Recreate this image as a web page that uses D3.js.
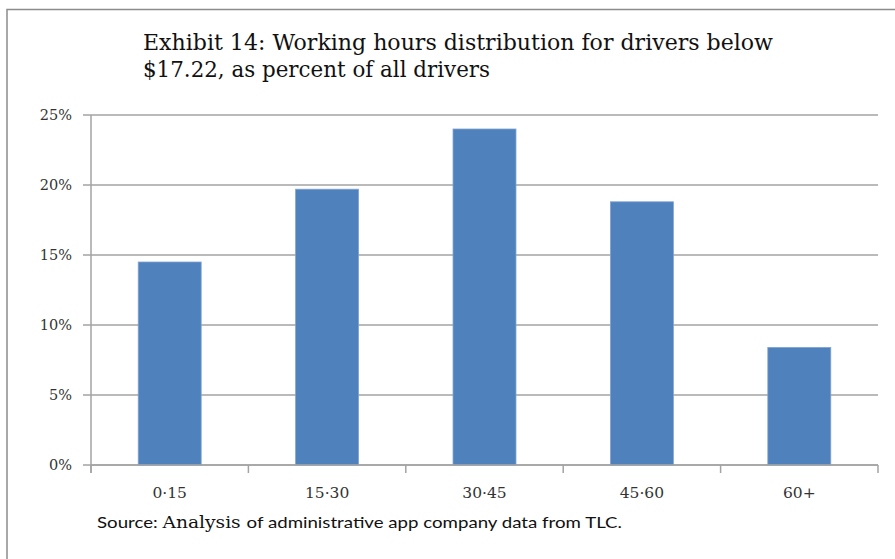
<!DOCTYPE html>
<html>
<head>
<meta charset="utf-8">
<script src="https://cdn.jsdelivr.net/npm/d3@7"></script>
<style>
  body { margin: 0; background: #fff; }
  svg { display: block; }
</style>
</head>
<body>
<div id="chart"></div>
<script>
// chart data
const categories = ["0\u00b715", "15\u00b730", "30\u00b745", "45\u00b760", "60+"];
const shares = [14.5, 19.7, 24.0, 18.8, 8.4];
const yTicks = [0, 5, 10, 15, 20, 25];
const titleLines = ["Exhibit 14: Working hours  distribution for drivers below", "$17.22, as percent of all drivers"];
const titleWidths = [630, 347];

const width = 895, height = 559;
const margin = { top: 115, right: 17, bottom: 94, left: 91 };
const serif = "'DejaVu Serif', serif";

const svg = d3.select("#chart")
    .append("svg")
    .attr("width", width)
    .attr("height", height);

// outer frame (top and left edges visible)
svg.append("path")
    .attr("d", `M7,${height} L7,9.5 L${width},9.5`)
    .attr("fill", "none")
    .attr("stroke", "#8c8c8c")
    .attr("stroke-width", 1.5);

const x = d3.scaleBand()
    .domain(categories)
    .range([margin.left, width - margin.right])
    .paddingInner(0.6)
    .paddingOuter(0.3);

const y = d3.scaleLinear()
    .domain([0, 25])
    .range([height - margin.bottom, margin.top]);

// gridlines
svg.append("g")
    .selectAll("line")
    .data(yTicks)
    .join("line")
    .attr("x1", margin.left - 8)
    .attr("x2", width - margin.right)
    .attr("y1", d => y(d))
    .attr("y2", d => y(d))
    .attr("stroke", "#a3a3a3")
    .attr("stroke-width", 1.5);

// y axis line
svg.append("line")
    .attr("x1", margin.left).attr("x2", margin.left)
    .attr("y1", margin.top).attr("y2", height - margin.bottom + 8)
    .attr("stroke", "#a3a3a3")
    .attr("stroke-width", 1.5);

// y labels
svg.append("g")
    .selectAll("text")
    .data(yTicks)
    .join("text")
    .attr("x", 72)
    .attr("y", d => y(d) + 5)
    .attr("text-anchor", "end")
    .style("font-family", serif)
    .style("font-size", "14.5px")
    .attr("fill", "#333")
    .text(d => d + "%");

// x tick marks between categories
const xEdges = d3.range(categories.length + 1).map(i => margin.left + i * (width - margin.right - margin.left) / categories.length);
svg.append("g")
    .selectAll("line")
    .data(xEdges)
    .join("line")
    .attr("x1", d => d).attr("x2", d => d)
    .attr("y1", height - margin.bottom)
    .attr("y2", height - margin.bottom + 8)
    .attr("stroke", "#a3a3a3")
    .attr("stroke-width", 1.5);

// bars
svg.append("g")
    .selectAll("rect")
    .data(shares)
    .join("rect")
    .attr("x", (d, i) => x(categories[i]))
    .attr("width", x.bandwidth())
    .attr("y", d => y(d))
    .attr("height", d => y(0) - y(d))
    .attr("fill", "#4f81bd")
    .attr("stroke", "#7fa3d3")
    .attr("stroke-width", 0.8);

// x axis baseline on top of bars
svg.append("line")
    .attr("x1", margin.left).attr("x2", width - margin.right)
    .attr("y1", y(0)).attr("y2", y(0))
    .attr("stroke", "#a3a3a3")
    .attr("stroke-width", 1.5);

// x labels
svg.append("g")
    .selectAll("text")
    .data(categories)
    .join("text")
    .attr("x", d => x(d) + x.bandwidth() / 2)
    .attr("y", 498)
    .attr("text-anchor", "middle")
    .style("font-family", serif)
    .style("font-size", "15.5px")
    .attr("fill", "#333")
    .text(d => d);

// title
svg.append("g")
    .selectAll("text")
    .data(titleLines)
    .join("text")
    .attr("x", 143)
    .attr("y", (d, i) => 50 + i * 27)
    .attr("textLength", (d, i) => titleWidths[i])
    .attr("lengthAdjust", "spacingAndGlyphs")
    .style("font-family", serif)
    .style("font-size", "22px")
    .attr("fill", "#111")
    .text(d => d);

// source note
const src = svg.append("text")
    .attr("x", 97)
    .attr("y", 528)
    .attr("textLength", 525)
    .attr("lengthAdjust", "spacingAndGlyphs")
    .style("font-family", "Lato, sans-serif")
    .style("font-size", "16px")
    .attr("fill", "#111");
src.append("tspan").text("Source: ");
src.append("tspan").style("font-family", serif).text("Analysis ");
src.append("tspan").text(" of administrative app company data from TLC.");
</script>
</body>
</html>
